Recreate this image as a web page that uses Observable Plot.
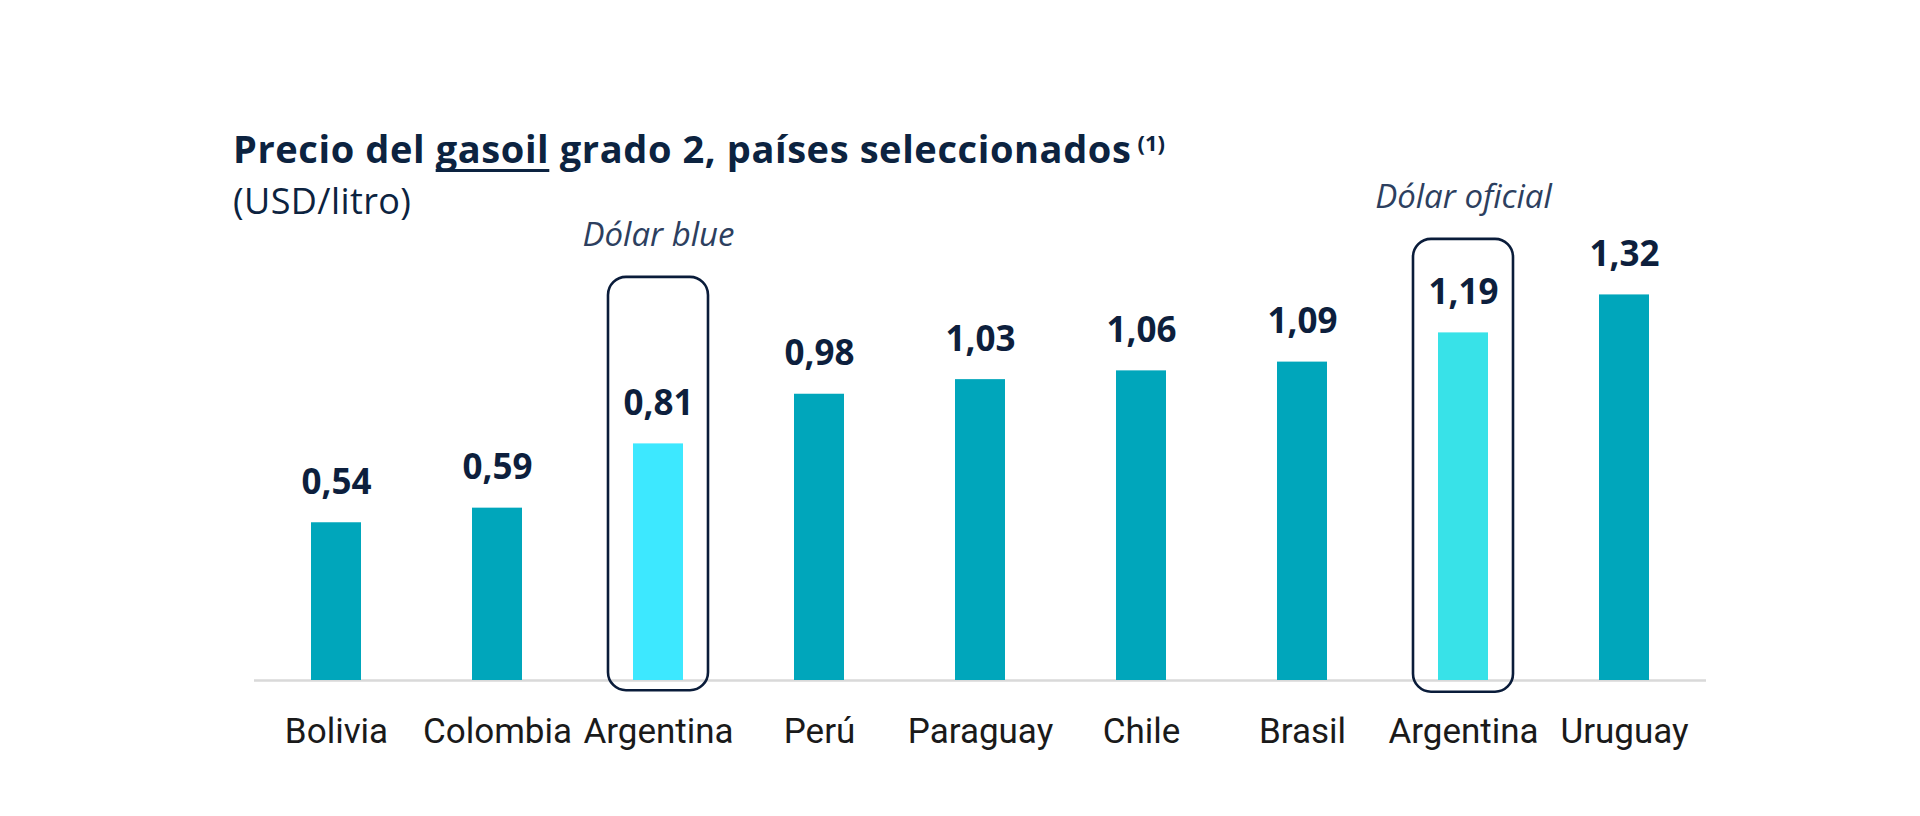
<!DOCTYPE html>
<html>
<head>
<meta charset="utf-8">
<script src="https://cdn.jsdelivr.net/npm/d3@7"></script>
<script src="https://cdn.jsdelivr.net/npm/@observablehq/plot@0.6"></script>
<style>
  html, body { margin: 0; padding: 0; background: #ffffff; }
  #wrap { position: relative; width: 1920px; height: 816px; overflow: hidden; font-family: "Open Sans", Roboto, sans-serif; }
  #title { position: absolute; left: 233px; top: 128px; font-size: 38px; line-height: 40px; font-weight: 700; color: #0c2340; white-space: nowrap; letter-spacing: 0.6px; }
  #title u { text-decoration-thickness: 3px; text-underline-offset: 6px; text-decoration-skip-ink: none; }
  #title sup { font-size: 22px; font-weight: 700; vertical-align: 0; position: relative; top: -12px; margin-left: 6px; letter-spacing: 0; }
  #subtitle { position: absolute; left: 233px; top: 181px; font-size: 36px; line-height: 40px; font-weight: 400; color: #0c2340; white-space: nowrap; letter-spacing: 0.4px; }
  #chart { position: absolute; left: 0; top: 0; }
</style>
</head>
<body>
<div id="wrap">
  <div id="chart"></div>
  <div id="title">Precio del <u>gasoil</u> grado 2, países seleccionados<sup>(1)</sup></div>
  <div id="subtitle">(USD/litro)</div>
</div>
<script>
// Data
const ids = ["Bolivia", "Colombia", "Argentina-blue", "Perú", "Paraguay", "Chile", "Brasil", "Argentina-oficial", "Uruguay"];
const countryLabels = ["Bolivia", "Colombia", "Argentina", "Perú", "Paraguay", "Chile", "Brasil", "Argentina", "Uruguay"];
const prices = [0.54, 0.59, 0.81, 0.98, 1.03, 1.06, 1.09, 1.19, 1.32];
const kinds = ["normal", "normal", "blue", "normal", "normal", "normal", "normal", "oficial", "normal"];

// Highlight boxes (annotation extents in USD/litro)
const boxIds = ["Argentina-blue", "Argentina-oficial"];
const boxNotes = ["Dólar blue", "Dólar oficial"];
const boxTops = [1.38, 1.51];
const boxBottoms = [-0.035, -0.04];

const rows = ids.map((id, i) => ({id, label: countryLabels[i], value: prices[i], kind: kinds[i],
  text: prices[i].toFixed(2).replace(".", ",")}));
const boxes = boxIds.map((id, i) => ({id, note: boxNotes[i], top: boxTops[i], bottom: boxBottoms[i]}));
const labelOf = new Map(ids.map((id, i) => [id, countryLabels[i]]));

const chart = Plot.plot({
  width: 1920,
  height: 816,
  marginLeft: 254,
  marginRight: 214,
  marginTop: 125,
  marginBottom: 136,
  style: {fontFamily: "Roboto, 'Noto Sans', sans-serif", background: "transparent"},
  x: {domain: ids, paddingInner: 0.69, paddingOuter: 0.345, align: 0.5, label: null},
  y: {domain: [0, 1.9], axis: null},
  color: {domain: ["normal", "blue", "oficial"], range: ["#00A6BB", "#3DE8FF", "#38E2E8"]},
  marks: [
    Plot.ruleY([0], {stroke: "#d9d9d9", strokeWidth: 2.5}),
    Plot.barY(rows, {x: "id", y: "value", fill: "kind"}),
    Plot.barY(boxes, {x: "id", y1: "bottom", y2: "top", fill: "none", stroke: "#0a1c3a", strokeWidth: 2.6,
      rx: 18, insetLeft: -25, insetRight: -25}),
    Plot.text(boxes, {x: "id", y: "top", text: "note", dy: -42, fontSize: 33, fontStyle: "italic",
      fontFamily: "'Open Sans', Roboto, sans-serif", fill: "#2d3f5f"}),
    Plot.text(rows, {x: "id", y: "value", text: "text", dy: -40, fontSize: 35, fontWeight: 700,
      fontFamily: "'Open Sans', Roboto, sans-serif", fill: "#0d1f3d"}),
    Plot.axisX({tickSize: 0, tickPadding: 38, fontSize: 35, tickFormat: d => labelOf.get(d),
      label: null, fill: "#1a1a1a"})
  ]
});
document.getElementById("chart").appendChild(chart);
</script>
</body>
</html>
